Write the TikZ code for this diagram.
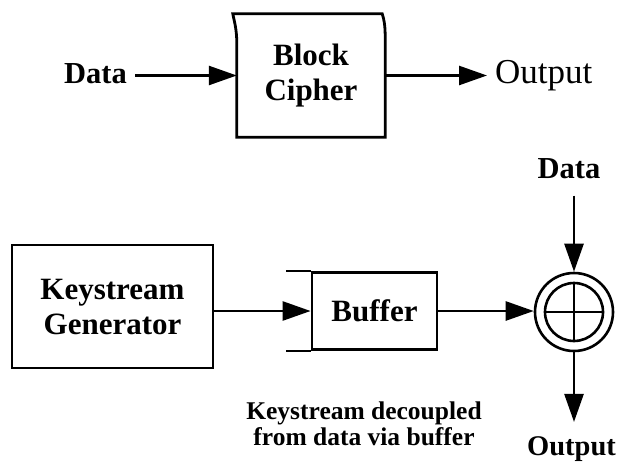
\documentclass[tikz,border=0pt]{standalone}
\usepackage{fontspec}
\setmainfont{Liberation Serif}
\usetikzlibrary{arrows.meta}
\begin{document}
\begin{tikzpicture}[x=1pt,y=-1pt,
  lbl/.style={font=\fontsize{31}{35}\selectfont\bfseries, inner sep=0pt, align=center},
  datalbl/.style={font=\fontsize{30.5}{35}\selectfont\bfseries, inner sep=0pt},
  outlbl/.style={font=\fontsize{35}{36}\selectfont, inner sep=0pt},
  smoutlbl/.style={font=\fontsize{28.5}{36}\selectfont\bfseries, inner sep=0pt},
  caption/.style={font=\fontsize{25.5}{26}\selectfont\bfseries, inner sep=0pt, align=center},
  boxline/.style={line width=2.8pt, line join=miter},
  ln/.style={line width=2.6pt},
  arr/.style={line width=2.6pt, -{Triangle[length=28pt,width=19pt]}}]
\useasboundingbox (0,0) rectangle (620,463);

% --- block cipher path ---
\node[datalbl, anchor=base east] (din) at (127,83) {Data};
\node[lbl, minimum width=148pt, minimum height=123pt] (bc) at (311,75.5) {Block\\Cipher};
\node[outlbl, anchor=base west] (dout) at (495,83) {Output};
\draw[boxline] (bc.south west) -- ([yshift=-30pt]bc.north west)
  .. controls ([yshift=-14pt]bc.north west) and ([xshift=-3pt,yshift=-6pt]bc.north west) ..
  ([xshift=-4pt]bc.north west) -- ([xshift=-3pt]bc.north east)
  .. controls ([xshift=-1pt,yshift=-6pt]bc.north east) and ([yshift=-12pt]bc.north east) ..
  ([yshift=-24pt]bc.north east) -- (bc.south east) -- cycle;
\draw[arr, shorten <=8pt] (din.east |- bc.west) -- (bc.west);
\draw[arr, shorten >=8pt] (bc.east) -- (dout.west |- bc.east);

% --- keystream generator path ---
\node[lbl, draw, boxline, minimum width=201pt, minimum height=123pt] (kg) at (112.5,306.5) {Keystream\\Generator};
\node[lbl, draw, boxline, minimum width=125pt, minimum height=77pt] (buf) at (374.5,311) {Buffer};
\draw[ln] (buf.north west) -- ++(-25,0);
\draw[ln] (buf.south west) -- ++(-25,0);
\draw[arr] (kg.east |- buf.west) -- (buf.west);

% --- combiner ---
\node[draw, circle, ln, minimum size=78pt, inner sep=0pt,
  path picture={
    \draw[ln] (path picture bounding box.center) circle[radius=29pt];
    \draw[line width=2.2pt] ([xshift=-29pt]path picture bounding box.center) -- ([xshift=29pt]path picture bounding box.center);
    \draw[line width=2.2pt] ([yshift=-29pt]path picture bounding box.center) -- ([yshift=29pt]path picture bounding box.center);
  }] (xor) at (574,312) {};
\draw[arr] (buf.east) -- (buf.east -| xor.west);

\node[datalbl, anchor=base] (dtop) at (569,178) {Data};
\node[smoutlbl, anchor=base] (obot) at (571.5,455) {Output};
\draw[arr, shorten <=17pt] (dtop.south -| xor.north) -- (xor.north);
\draw[arr, shorten >=14pt] (xor.south) -- (obot.north -| xor.south);

\node[caption] (cap) at (364,424) {Keystream decoupled\\from data via buffer};
\end{tikzpicture}
\end{document}
